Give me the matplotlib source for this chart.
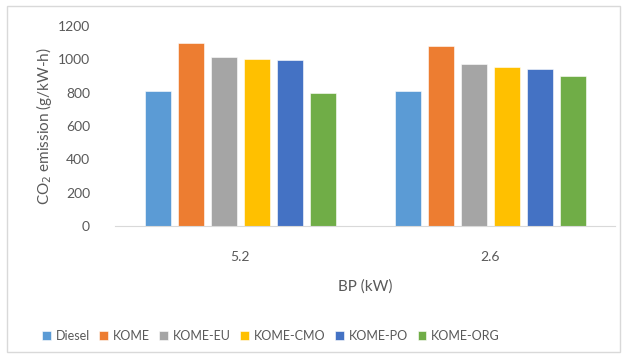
import matplotlib
matplotlib.use("Agg")
import matplotlib.pyplot as plt
from matplotlib.patches import Rectangle
import numpy as np

categories = ["5.2", "2.6"]
series = ["Diesel", "KOME", "KOME-EU", "KOME-CMO", "KOME-PO", "KOME-ORG"]
values = {
    "Diesel":   [808, 808],
    "KOME":     [1100, 1080],
    "KOME-EU":  [1015, 969],
    "KOME-CMO": [1000, 953],
    "KOME-PO":  [995, 943],
    "KOME-ORG": [796, 897],
}
colors = ["#5B9BD5", "#ED7D31", "#A5A5A5", "#FFC000", "#4472C4", "#70AD47"]
yticks = [0, 200, 400, 600, 800, 1000, 1200]

plt.rcParams['font.family'] = ['Lato', 'DejaVu Sans']
txt = "#595959"

fig = plt.figure(figsize=(6.27, 3.58), dpi=100)
fig.patches.append(Rectangle((7/627, 6/358), 613/627, 346/358, transform=fig.transFigure,
                             fill=False, edgecolor="#D9D9D9", linewidth=1.0))
ax = fig.add_axes([115/627, 1 - 226/358, 500/627, 200/358])

x = np.arange(len(categories))
width = 0.104
step = 0.132
n = len(series)
for i, (s, c) in enumerate(zip(series, colors)):
    off = (i - (n - 1) / 2) * step
    ax.bar(x + off, values[s], width, color=c, label=s, edgecolor="white", linewidth=0.4)

ax.set_xlim(-0.5, 1.5)
ax.set_ylim(0, 1200)
ax.set_yticks(yticks)
ax.set_yticklabels([str(v) for v in yticks], color=txt, fontsize=10)
ax.set_xticks(x)
ax.set_xticklabels(categories, color=txt, fontsize=10)
ax.tick_params(axis='both', length=0)
ax.tick_params(axis='y', pad=18)
ax.tick_params(axis='x', pad=18)
for sp in ["top", "right", "left"]:
    ax.spines[sp].set_visible(False)
ax.spines["bottom"].set_color("#D9D9D9")
ax.set_ylabel("CO$_2$ emission (g/kW-h)", color=txt, fontsize=11, labelpad=3)
ax.set_xlabel("BP (kW)", color=txt, fontsize=11, labelpad=12)

leg = fig.legend(loc="center", bbox_to_anchor=(271/627, 1 - 336/358), ncol=6, frameon=False,
                 fontsize=9, handlelength=0.7, handleheight=0.7, handletextpad=0.4,
                 columnspacing=0.75)
for t in leg.get_texts():
    t.set_color(txt)

fig.savefig("out.png", dpi=100)
